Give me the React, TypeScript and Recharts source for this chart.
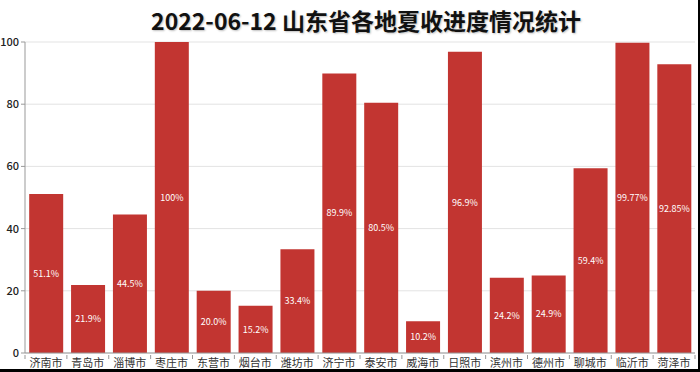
import { BarChart, Bar, XAxis, YAxis, CartesianGrid, LabelList } from 'recharts';

const cities = ['济南市', '青岛市', '淄博市', '枣庄市', '东营市', '烟台市', '潍坊市', '济宁市', '泰安市', '威海市', '日照市', '滨州市', '德州市', '聊城市', '临沂市', '菏泽市'];
const progress = [51.1, 21.9, 44.5, 100, 20.0, 15.2, 33.4, 89.9, 80.5, 10.2, 96.9, 24.2, 24.9, 59.4, 99.77, 92.85];
const progressText = ['51.1%', '21.9%', '44.5%', '100%', '20.0%', '15.2%', '33.4%', '89.9%', '80.5%', '10.2%', '96.9%', '24.2%', '24.9%', '59.4%', '99.77%', '92.85%'];
const yTicks = [0, 20, 40, 60, 80, 100];

const data = cities.map((name, i) => ({ name, value: progress[i], text: progressText[i] }));

const FONT = '"Noto Sans CJK SC", "Noto Sans", sans-serif';
const W = 700;
const H = 372;
const LEFT = 25;
const RIGHT = 695;
const band = (RIGHT - LEFT) / cities.length;

function CityTick(props: any) {
  const { x, y, payload, index } = props;
  return (
    <g>
      <line x1={x - band / 2} x2={x - band / 2} y1={y - 5} y2={y - 1} stroke="#999" />
      {index === cities.length - 1 && (
        <line x1={x + band / 2} x2={x + band / 2} y1={y - 5} y2={y - 1} stroke="#999" />
      )}
      <text x={x} y={y - 1} dy="0.72em" textAnchor="middle" fontSize={11} fill="#333" fontFamily={FONT}>
        {payload.value}
      </text>
    </g>
  );
}

export default function App() {
  return (
    <div style={{ position: 'fixed', left: 0, top: 0, width: W, height: H, background: '#fff', overflow: 'hidden' }}>
      <div
        style={{
          position: 'absolute',
          left: 0,
          top: 3,
          width: 732,
          textAlign: 'center',
          fontFamily: FONT,
          fontWeight: 700,
          fontSize: 23,
          color: '#111',
          textShadow: '1px 1px 2px rgba(0,0,0,0.25)',
        }}
      >
        2022-06-12 山东省各地夏收进度情况统计
      </div>
      <div style={{ position: 'absolute', left: 0, top: 0 }}>
        <BarChart width={W} height={H} data={data} margin={{ top: 42, right: W - RIGHT, left: 0, bottom: 3 }} barCategoryGap="10%">
          <CartesianGrid vertical={false} stroke="#e3e3e3" />
          <XAxis
            dataKey="name"
            interval={0}
            tickLine={false}
            height={16}
            stroke="#999"
            tick={<CityTick />}
            tickMargin={1}
          />
          <YAxis
            domain={[0, 100]}
            ticks={yTicks}
            width={LEFT}
            stroke="#999"
            tickSize={4}
            tickMargin={2}
            tick={{ fontSize: 11, fill: '#222', fontFamily: FONT, fontWeight: 500 }}
          />
          <Bar dataKey="value" fill="#c23531" isAnimationActive={false}>
            <LabelList dataKey="text" position="center" fill="#fff" fontSize={9} fontFamily={FONT} />
          </Bar>
        </BarChart>
      </div>
      <div style={{ position: 'absolute', left: 0, top: 369, width: W, height: 3, background: '#000' }} />
      <div style={{ position: 'absolute', left: 698, top: 0, width: 2, height: H, background: '#000' }} />
    </div>
  );
}
